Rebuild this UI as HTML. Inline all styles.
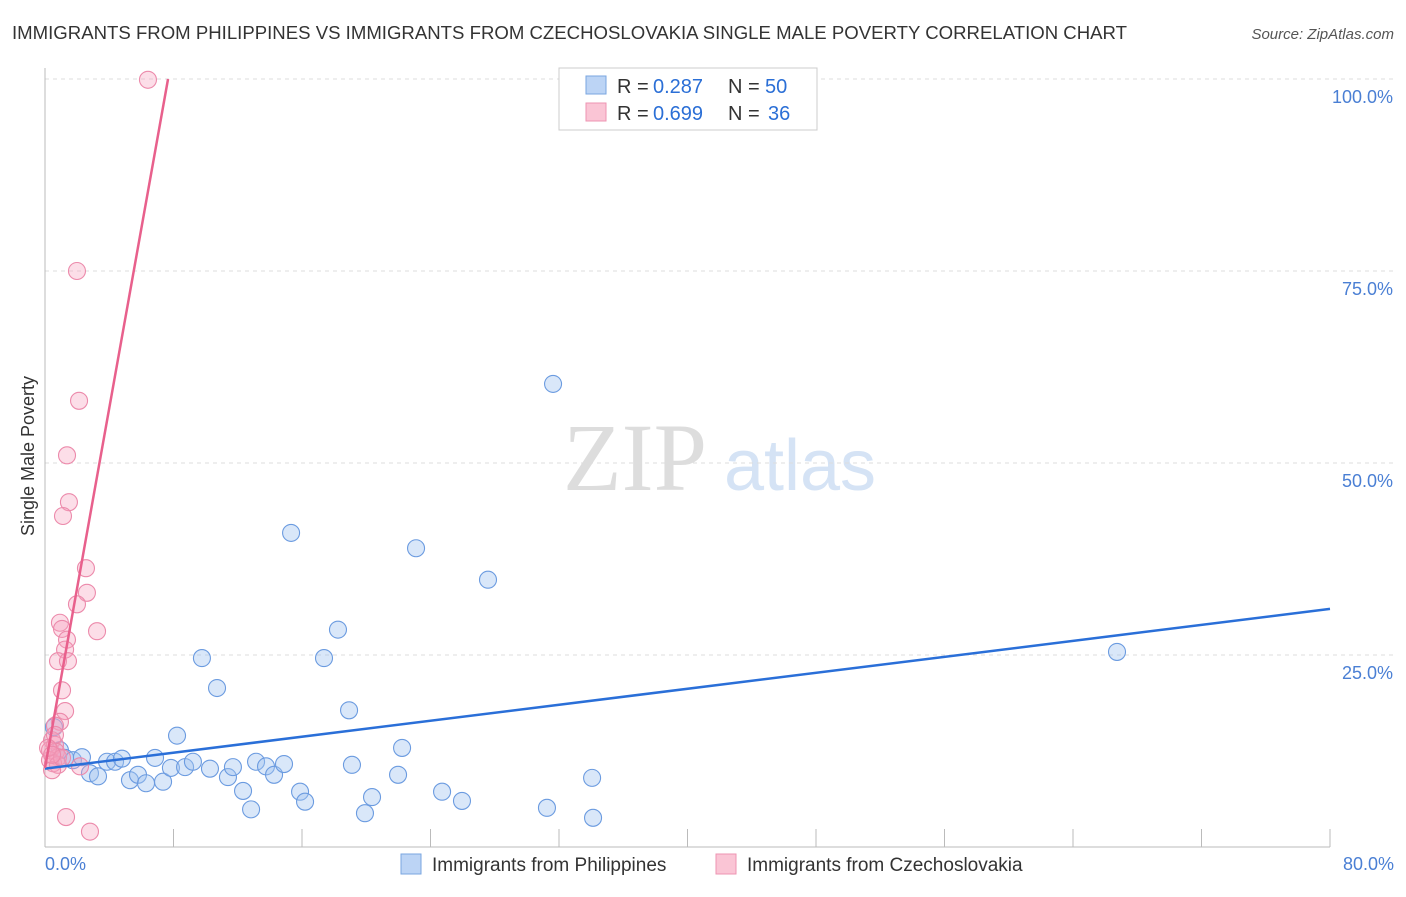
<!DOCTYPE html>
<html><head><meta charset="utf-8"><style>
body{margin:0;background:#fff;font-family:"Liberation Sans",sans-serif;}
</style></head><body>
<svg id="c" width="1406" height="892" xmlns="http://www.w3.org/2000/svg">
<text x="12" y="39" font-size="18" fill="#333" textLength="1115" lengthAdjust="spacingAndGlyphs">IMMIGRANTS FROM PHILIPPINES VS IMMIGRANTS FROM CZECHOSLOVAKIA SINGLE MALE POVERTY CORRELATION CHART</text>
<text x="1394" y="39" font-size="15" fill="#555" text-anchor="end" font-style="italic">Source: ZipAtlas.com</text>
<text x="635" y="490" font-size="96" fill="#ddd" font-family="Liberation Serif,serif" text-anchor="middle">ZIP</text>
<text x="800" y="490" font-size="72" fill="#d5e3f5" text-anchor="middle">atlas</text>
<text transform="translate(34,456) rotate(-90)" font-size="18" fill="#333" text-anchor="middle">Single Male Poverty</text>
<g id="grid"></g><g id="pts"></g><g id="lines"></g>
<rect x="559" y="68" width="258" height="62" fill="#fff" stroke="#ccc"/>
<rect x="586" y="76" width="20" height="18" fill="#bcd4f5" stroke="#7aa6e0"/>
<rect x="586" y="103" width="20" height="18" fill="#fac5d5" stroke="#ee94b2"/>
<g font-size="20" fill="#333">
<text x="617" y="93">R =</text><text x="653" y="93" fill="#2b6fd6">0.287</text>
<text x="728" y="93">N =</text><text x="765" y="93" fill="#2b6fd6">50</text></g>
<g font-size="20" fill="#333">
<text x="617" y="120">R =</text><text x="653" y="120" fill="#2b6fd6">0.699</text>
<text x="728" y="120">N =</text><text x="768" y="120" fill="#2b6fd6">36</text></g>
<text x="45" y="870" font-size="18" fill="#4a7fd4">0.0%</text>
<text x="1394" y="870" font-size="18" fill="#4a7fd4" text-anchor="end">80.0%</text>
<rect x="401" y="854" width="20" height="20" fill="#bcd4f5" stroke="#7aa6e0"/>
<text x="432" y="871" font-size="19" fill="#333">Immigrants from Philippines</text>
<rect x="716" y="854" width="20" height="20" fill="#fac5d5" stroke="#ee94b2"/>
<text x="747" y="871" font-size="19" fill="#333">Immigrants from Czechoslovakia</text>
</svg>
<script>
const yTicks=[25,50,75,100];
const yTickLabels=["25.0%","50.0%","75.0%","100.0%"];
const xTickCount=10;
const blueX=[0.56,0.93,1.25,1.74,2.30,2.80,3.30,3.86,4.36,4.79,5.29,5.79,6.29,6.85,7.35,7.84,8.22,8.72,9.21,9.77,10.27,10.71,11.39,11.70,12.33,12.83,13.14,13.76,14.26,14.88,15.32,15.88,16.19,17.37,18.24,18.93,19.11,19.92,20.36,21.98,22.23,23.10,24.72,25.96,27.58,31.25,31.63,34.06,34.12,66.74];
const blueY=[15.6,12.6,11.6,11.3,11.7,9.6,9.2,11.1,11.1,11.5,8.7,9.4,8.3,11.6,8.5,10.3,14.5,10.4,11.1,24.6,10.2,20.7,9.1,10.4,7.3,4.9,11.1,10.5,9.4,10.8,40.9,7.2,5.9,24.6,28.3,17.8,10.7,4.4,6.5,9.4,12.9,38.9,7.2,6.0,34.8,5.1,60.3,9.0,3.8,25.4];
const pinkX=[6.41,1.99,2.12,1.37,1.49,1.12,2.55,2.61,1.99,3.24,0.93,1.06,1.37,1.25,0.81,1.43,1.06,1.25,0.93,0.62,0.44,0.62,0.31,0.68,0.81,0.31,0.50,0.81,0.44,2.18,1.31,2.80,0.62,0.19,1.06,0.44];
const pinkY=[99.9,75.0,58.1,51.0,44.9,43.1,36.3,33.1,31.6,28.1,29.2,28.4,27.0,25.7,24.2,24.2,20.4,17.7,16.3,15.8,13.9,13.3,12.6,12.4,11.7,11.3,10.9,10.7,10.0,10.5,3.9,2.0,14.6,12.9,11.6,12.0];
const blueTrend=[10.2,31.0];
const pinkTrend=[10.3,11.71];
const NS="http://www.w3.org/2000/svg";
const X=v=>45+v/80*1285, Y=v=>847-v/100*768;
function mk(t,a,p){const e=document.createElementNS(NS,t);for(const k in a)e.setAttribute(k,a[k]);p.appendChild(e);return e;}
const g=document.getElementById('grid');
yTicks.forEach((t,i)=>{
 const l=mk('line',{x1:45,x2:1394,y1:Y(t),y2:Y(t),stroke:'#ddd','stroke-dasharray':'4,4'},g);
 
 
 const tx=mk('text',{x:1393,y:Y(t)+24,'font-size':18,fill:'#4a7fd4','text-anchor':'end'},g);
 tx.textContent=yTickLabels[i];
 
 
});
const ax=mk('line',{x1:45,x2:45,y1:68,y2:847,stroke:'#bbb'},g);


const bx=mk('line',{x1:45,x2:1330,y1:847,y2:847,stroke:'#bbb'},g);


for(let i=1;i<=xTickCount;i++){const t=mk('line',{x1:X(i*8),x2:X(i*8),y1:829,y2:847,stroke:'#bbb'},g);
 
 }
const p=document.getElementById('pts');
blueX.forEach((v,i)=>{const c=mk('circle',{cx:X(v),cy:Y(blueY[i]),r:8.5,fill:'rgba(160,195,240,0.4)',stroke:'#6b9be0','stroke-width':1.1},p);
 
 });
pinkX.forEach((v,i)=>{const c=mk('circle',{cx:X(v),cy:Y(pinkY[i]),r:8.5,fill:'rgba(245,160,190,0.35)',stroke:'#ec8aab','stroke-width':1.1},p);
 
 });
const L=document.getElementById('lines');
const bl=mk('line',{x1:X(0),y1:Y(blueTrend[0]),x2:X(80),y2:Y(blueTrend[1]),stroke:'#2a6fd8','stroke-width':2.5},L);


const xe=(100-pinkTrend[0])/pinkTrend[1];
const pl=mk('line',{x1:X(0),y1:Y(pinkTrend[0]),x2:X(xe),y2:Y(100),stroke:'#e8608c','stroke-width':2.5},L);


</script>
</body></html>
